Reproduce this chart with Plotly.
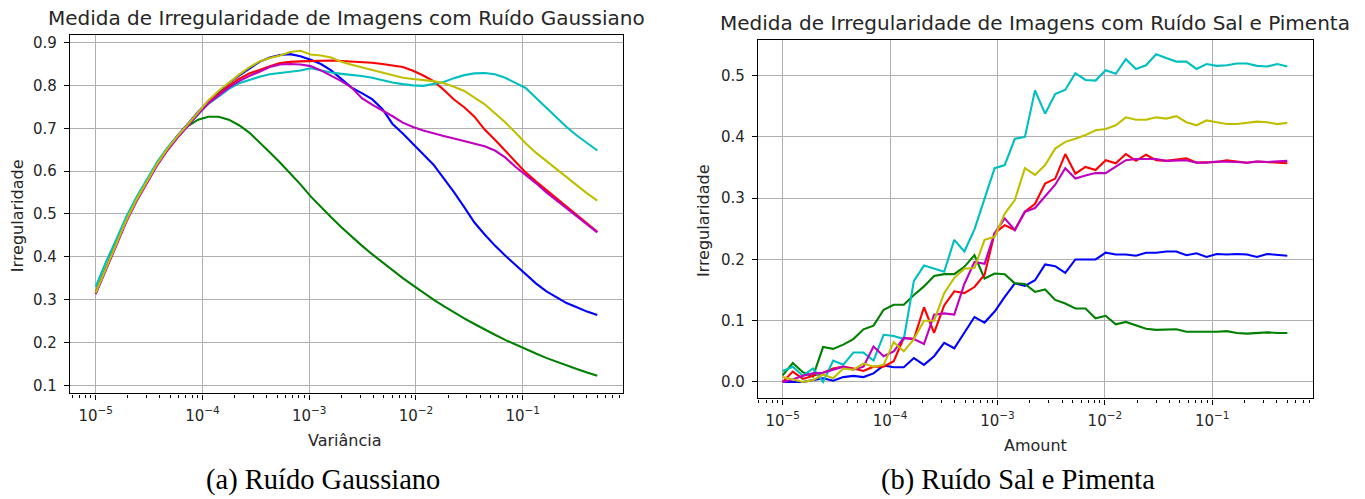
import numpy as np
import plotly.graph_objects as go

# ---- Ruído Gaussiano: variância (log) vs irregularidade ----
variancia = np.geomspace(1e-5, 0.5, 50)

g_blue = [0.317, 0.375, 0.431, 0.488, 0.536, 0.579, 0.619, 0.653, 0.683, 0.710, 0.738,
          0.763, 0.785, 0.805, 0.823, 0.840, 0.855, 0.865, 0.871, 0.873, 0.868,
          0.860, 0.850, 0.835, 0.815, 0.795, 0.782, 0.768, 0.745, 0.710, 0.688,
          0.664, 0.639, 0.615, 0.583, 0.551, 0.516, 0.480, 0.452, 0.426, 0.403,
          0.381, 0.359, 0.338, 0.320, 0.305, 0.292, 0.282, 0.272, 0.264]
g_green = [0.316, 0.374, 0.429, 0.486, 0.534, 0.577, 0.617, 0.651, 0.680, 0.705, 0.720,
           0.727, 0.727, 0.720, 0.707, 0.690, 0.668, 0.644, 0.620, 0.595, 0.569,
           0.541, 0.516, 0.492, 0.469, 0.447, 0.426, 0.406, 0.387, 0.368, 0.350,
           0.333, 0.316, 0.300, 0.285, 0.270, 0.256, 0.243, 0.230, 0.218, 0.206,
           0.195, 0.184, 0.174, 0.164, 0.155, 0.146, 0.138, 0.130, 0.122]
g_red = [0.315, 0.373, 0.428, 0.485, 0.533, 0.576, 0.616, 0.650, 0.680, 0.707, 0.735,
         0.760, 0.780, 0.799, 0.815, 0.828, 0.836, 0.845, 0.852, 0.855, 0.856,
         0.857, 0.857, 0.858, 0.857, 0.856, 0.855, 0.853, 0.850, 0.846, 0.843,
         0.834, 0.823, 0.810, 0.790, 0.767, 0.749, 0.727, 0.697, 0.673, 0.647,
         0.621, 0.597, 0.576, 0.556, 0.536, 0.516, 0.497, 0.478, 0.458]
g_cyan = [0.330, 0.388, 0.440, 0.494, 0.540, 0.582, 0.621, 0.654, 0.682, 0.707, 0.733,
          0.757, 0.774, 0.792, 0.805, 0.813, 0.820, 0.826, 0.829, 0.832, 0.835,
          0.840, 0.835, 0.830, 0.827, 0.825, 0.822, 0.818, 0.812, 0.807, 0.803,
          0.800, 0.799, 0.803, 0.808, 0.817, 0.824, 0.828, 0.829, 0.826, 0.818,
          0.806, 0.794, 0.771, 0.748, 0.726, 0.703, 0.683, 0.665, 0.648]
g_magenta = [0.313, 0.370, 0.425, 0.482, 0.530, 0.573, 0.613, 0.648, 0.678, 0.705, 0.733,
             0.758, 0.777, 0.795, 0.810, 0.822, 0.832, 0.843, 0.849, 0.850, 0.849,
             0.845, 0.835, 0.822, 0.810, 0.795, 0.770, 0.755, 0.742, 0.728, 0.713,
             0.703, 0.695, 0.688, 0.682, 0.676, 0.670, 0.665, 0.658, 0.648, 0.632,
             0.610, 0.592, 0.572, 0.551, 0.532, 0.512, 0.494, 0.476, 0.457]
g_yellow = [0.316, 0.373, 0.429, 0.486, 0.534, 0.577, 0.617, 0.652, 0.682, 0.709, 0.738,
            0.765, 0.787, 0.807, 0.825, 0.842, 0.856, 0.864, 0.870, 0.878, 0.881,
            0.872, 0.870, 0.865, 0.855, 0.848, 0.842, 0.836, 0.830, 0.823, 0.818,
            0.815, 0.813, 0.810, 0.805, 0.797, 0.787, 0.772, 0.756, 0.735, 0.714,
            0.690, 0.665, 0.643, 0.624, 0.605, 0.585, 0.566, 0.548, 0.531]

# ---- Ruído Sal e Pimenta: amount (log) vs irregularidade ----
amount = np.geomspace(1e-5, 0.5, 51)

s_blue = [0.000, 0.000, 0.000, 0.003, 0.006, 0.002, 0.008, 0.010, 0.008, 0.014,
          0.027, 0.024, 0.024, 0.039, 0.028, 0.042, 0.064, 0.055, 0.080, 0.106,
          0.097, 0.115, 0.139, 0.161, 0.157, 0.166, 0.192, 0.189, 0.178, 0.200,
          0.200, 0.200, 0.211, 0.208, 0.208, 0.206, 0.211, 0.211, 0.213, 0.213,
          0.207, 0.210, 0.204, 0.209, 0.208, 0.209, 0.208, 0.204, 0.209, 0.208, 0.206]
s_green = [0.011, 0.031, 0.016, 0.009, 0.057, 0.054, 0.061, 0.070, 0.086, 0.092,
           0.118, 0.126, 0.126, 0.142, 0.156, 0.173, 0.176, 0.176, 0.188, 0.207,
           0.169, 0.177, 0.176, 0.161, 0.160, 0.147, 0.151, 0.134, 0.128, 0.120,
           0.120, 0.104, 0.108, 0.094, 0.098, 0.092, 0.087, 0.085, 0.085, 0.086,
           0.082, 0.082, 0.081, 0.082, 0.083, 0.080, 0.079, 0.080, 0.081, 0.080, 0.080]
s_red = [0.000, 0.017, 0.005, 0.010, 0.015, 0.022, 0.025, 0.022, 0.018, 0.025,
         0.025, 0.034, 0.072, 0.070, 0.122, 0.080, 0.125, 0.148, 0.145, 0.155,
         0.175, 0.243, 0.256, 0.248, 0.278, 0.291, 0.324, 0.332, 0.372, 0.340,
         0.351, 0.346, 0.362, 0.357, 0.372, 0.361, 0.371, 0.362, 0.361, 0.363,
         0.365, 0.358, 0.358, 0.359, 0.362, 0.360, 0.358, 0.360, 0.359, 0.358, 0.357]
s_cyan = [0.018, 0.025, 0.010, 0.022, 0.000, 0.035, 0.028, 0.048, 0.048, 0.035,
          0.077, 0.075, 0.070, 0.165, 0.190, 0.185, 0.180, 0.232, 0.213, 0.249,
          0.300, 0.349, 0.354, 0.397, 0.400, 0.476, 0.438, 0.470, 0.477, 0.504,
          0.493, 0.492, 0.509, 0.503, 0.527, 0.511, 0.517, 0.535, 0.529, 0.523,
          0.523, 0.511, 0.519, 0.516, 0.517, 0.520, 0.520, 0.516, 0.515, 0.519, 0.515]
s_magenta = [0.000, 0.004, 0.010, 0.014, 0.015, 0.020, 0.025, 0.020, 0.025, 0.058,
             0.042, 0.050, 0.072, 0.070, 0.062, 0.110, 0.112, 0.110, 0.160, 0.196,
             0.193, 0.243, 0.267, 0.248, 0.278, 0.284, 0.303, 0.322, 0.349, 0.332,
             0.337, 0.341, 0.341, 0.351, 0.362, 0.364, 0.364, 0.364, 0.361, 0.362,
             0.362, 0.358, 0.358, 0.360, 0.360, 0.359, 0.358, 0.360, 0.359, 0.360, 0.361]
s_yellow = [0.008, 0.004, 0.000, 0.003, 0.012, 0.006, 0.022, 0.020, 0.030, 0.025,
            0.028, 0.065, 0.050, 0.070, 0.100, 0.100, 0.145, 0.170, 0.185, 0.186,
            0.232, 0.237, 0.275, 0.297, 0.349, 0.338, 0.354, 0.381, 0.392, 0.397,
            0.403, 0.411, 0.413, 0.419, 0.432, 0.428, 0.428, 0.432, 0.430, 0.434,
            0.424, 0.419, 0.427, 0.424, 0.421, 0.421, 0.423, 0.425, 0.424, 0.421, 0.423]

# tick labels
decades = [1e-5, 1e-4, 1e-3, 1e-2, 1e-1]
decade_text = ["10<sup>\u22125</sup>", "10<sup>\u22124</sup>", "10<sup>\u22123</sup>",
               "10<sup>\u22122</sup>", "10<sup>\u22121</sup>"]
minor_vals = [m * 10.0 ** e for e in range(-6, 0) for m in range(2, 10)]

# matplotlib single-letter colours b, g, r, c, m, y
colors = {"b": "#0000ff", "g": "#008000", "r": "#ff0000",
          "c": "#00bfbf", "m": "#bf00bf", "y": "#bfbf00"}

W, H = 1365, 499
FONT = "DejaVu Sans"
TXT = "#262626"

fig = go.Figure()

left_series = [("b", g_blue), ("g", g_green), ("r", g_red),
               ("c", g_cyan), ("m", g_magenta), ("y", g_yellow)]
right_series = [("b", s_blue), ("g", s_green), ("r", s_red),
                ("c", s_cyan), ("m", s_magenta), ("y", s_yellow)]

for key, vals in left_series:
    fig.add_trace(go.Scatter(x=variancia, y=vals, mode="lines",
                             line=dict(color=colors[key], width=2.1),
                             xaxis="x", yaxis="y", showlegend=False))
for key, vals in right_series:
    fig.add_trace(go.Scatter(x=amount, y=vals, mode="lines",
                             line=dict(color=colors[key], width=2.1),
                             xaxis="x2", yaxis="y2", showlegend=False))


def px_x(p):
    return p / W


def px_y(p):
    return 1 - p / H


common_x = dict(type="log", showline=True, mirror=True, linecolor="#000000", linewidth=1.2,
                showgrid=True, gridcolor="#b0b0b0", gridwidth=1.2, zeroline=False,
                ticks="outside", ticklen=5, tickwidth=1.2, tickcolor="#000000",
                tickmode="array", tickvals=decades, ticktext=decade_text,
                tickfont=dict(family=FONT, size=15, color=TXT), ticklabelstandoff=3,
                minor=dict(tickmode="array", tickvals=minor_vals, ticks="outside",
                           ticklen=3, tickwidth=1, tickcolor="#000000", showgrid=False))
common_y = dict(showline=True, mirror=True, linecolor="#000000", linewidth=1.2,
                showgrid=True, gridcolor="#b0b0b0", gridwidth=1.2, zeroline=False,
                ticks="outside", ticklen=5, tickwidth=1.2, tickcolor="#000000",
                tickfont=dict(family=FONT, size=15, color=TXT), ticklabelstandoff=4,
                tickformat=".1f")

fig.update_layout(
    width=W, height=H, autosize=False,
    margin=dict(l=0, r=0, t=0, b=0),
    paper_bgcolor="white", plot_bgcolor="white",
    xaxis=dict(common_x, domain=[px_x(70), px_x(623)], range=[-5.241, -0.060], anchor="y"),
    yaxis=dict(common_y, domain=[px_y(394), px_y(34)], range=[0.081, 0.918], anchor="x",
               tickvals=[0.1, 0.2, 0.3, 0.4, 0.5, 0.6, 0.7, 0.8, 0.9]),
    xaxis2=dict(common_x, domain=[px_x(758), px_x(1313)], range=[-5.23, -0.062], anchor="y2"),
    yaxis2=dict(common_y, domain=[px_y(399), px_y(39)], range=[-0.0268, 0.5585], anchor="x2",
                tickvals=[0.0, 0.1, 0.2, 0.3, 0.4, 0.5]),
)

annotations = [
    # panel titles
    dict(text="Medida de Irregularidade de Imagens com Ruído Gaussiano",
         x=px_x(346.5), y=px_y(17), font=dict(family=FONT, size=20, color=TXT)),
    dict(text="Medida de Irregularidade de Imagens com Ruído Sal e Pimenta",
         x=px_x(1035), y=px_y(22), font=dict(family=FONT, size=20, color=TXT)),
    # axis titles
    dict(text="Variância", x=px_x(345), y=px_y(441),
         font=dict(family=FONT, size=16, color=TXT)),
    dict(text="Amount", x=px_x(1035), y=px_y(446.5),
         font=dict(family=FONT, size=16, color=TXT)),
    dict(text="Irregularidade", x=px_x(17), y=px_y(216), textangle=-90,
         font=dict(family=FONT, size=16, color=TXT)),
    dict(text="Irregularidade", x=px_x(703), y=px_y(220), textangle=-90,
         font=dict(family=FONT, size=16, color=TXT)),
    # sub-figure captions
    dict(text="(a) Ruído Gaussiano", x=px_x(323), y=px_y(481),
         font=dict(family="Liberation Serif", size=28.5, color="#000000")),
    dict(text="(b) Ruído Sal e Pimenta", x=px_x(1018), y=px_y(481),
         font=dict(family="Liberation Serif", size=28.5, color="#000000")),
]
for a in annotations:
    a.update(xref="paper", yref="paper", showarrow=False, xanchor="center", yanchor="middle")
fig.update_layout(annotations=annotations)

fig.write_html("out.html")
